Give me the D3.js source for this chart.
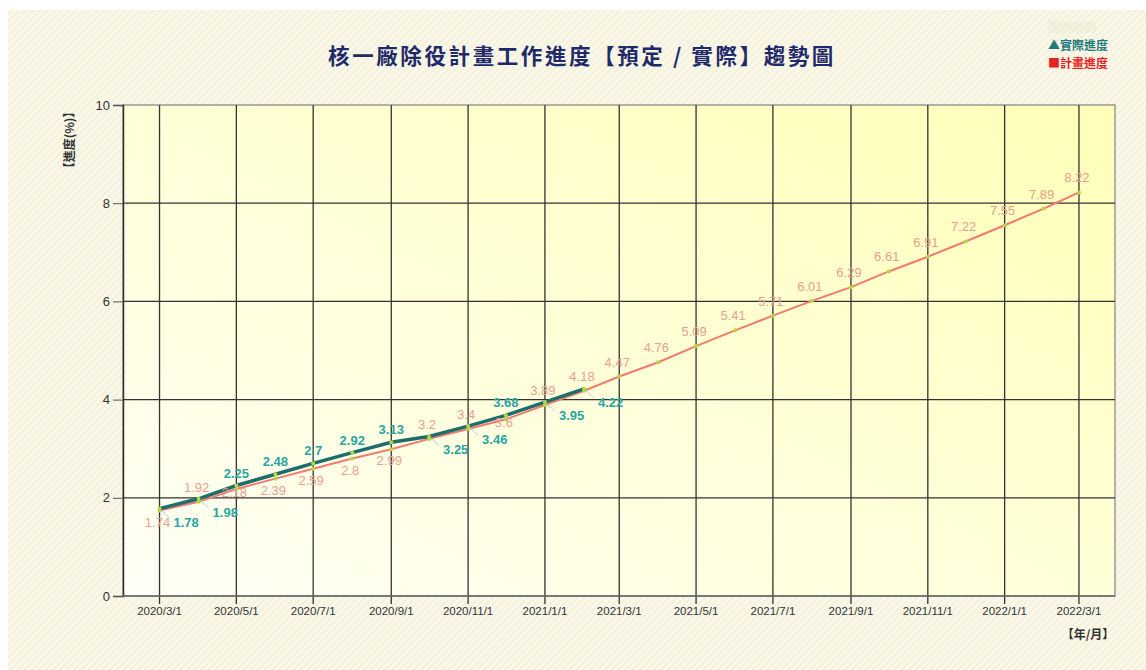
<!DOCTYPE html>
<html>
<head>
<meta charset="utf-8">
<script src="https://cdn.jsdelivr.net/npm/d3@7"></script>
<style>
  html, body { margin: 0; padding: 0; background: #fff; }
  #chart { width: 1146px; height: 670px; }
</style>
</head>
<body>
<div id="chart"></div>
<script>
// monthly progress, 2020/3 .. 2022/3
const months = ["2020-03","2020-04","2020-05","2020-06","2020-07","2020-08","2020-09","2020-10","2020-11","2020-12",
  "2021-01","2021-02","2021-03","2021-04","2021-05","2021-06","2021-07","2021-08","2021-09","2021-10","2021-11","2021-12",
  "2022-01","2022-02","2022-03"];
const planned = [1.74,1.92,2.18,2.39,2.59,2.8,2.99,3.2,3.4,3.6,3.89,4.18,4.47,4.76,5.09,5.41,5.71,6.01,6.29,6.61,6.91,7.22,7.55,7.89,8.22];
const actual = [1.78,1.98,2.25,2.48,2.7,2.92,3.13,3.25,3.46,3.68,3.95,4.22];
const xTicks = ["2020/3/1","2020/5/1","2020/7/1","2020/9/1","2020/11/1","2021/1/1","2021/3/1","2021/5/1","2021/7/1","2021/9/1","2021/11/1","2022/1/1","2022/3/1"];
const yTicks = [0,2,4,6,8,10];
// label side: a = above, b = below, c = on the point
const planSide = ["b","a","c","b","b","b","b","a","a","c","a","a","a","a","a","a","a","a","a","a","a","a","a","a","a"];
const actSide = ["b","b","a","a","a","a","a","b","b","a","b","b"];

const W = 1146, H = 670;
const m = {left: 123, right: 1115, top: 105, bottom: 596};
const parse = d3.timeParse("%Y-%m");
const parseTick = d3.timeParse("%Y/%m/%d");

const svg = d3.select("#chart").append("svg").attr("width", W).attr("height", H)
  .style("font-family", "'Noto Sans CJK TC', 'Liberation Sans', sans-serif");

const defs = svg.append("defs");
const pat = defs.append("pattern").attr("id", "stripe").attr("patternUnits", "userSpaceOnUse")
  .attr("width", 5).attr("height", 5).attr("patternTransform", "rotate(-45)");
pat.append("rect").attr("width", 5).attr("height", 5).attr("fill", "#faf8e9");
pat.append("rect").attr("width", 5).attr("height", 2).attr("fill", "#f3f0dc");
const grad = defs.append("linearGradient").attr("id", "plotbg")
  .attr("x1", "0%").attr("y1", "100%").attr("x2", "100%").attr("y2", "0%");
grad.append("stop").attr("offset", "0%").attr("stop-color", "#fffff6");
grad.append("stop").attr("offset", "100%").attr("stop-color", "#ffffb8");

svg.append("rect").attr("x", 8).attr("y", 10).attr("width", W - 8).attr("height", H - 10).attr("fill", "url(#stripe)");

const x = d3.scaleTime().domain([parse("2020-02"), parse("2022-04")]).range([m.left, m.right + 3]);
const y = d3.scaleLinear().domain([0, 10]).range([m.bottom, m.top]);

svg.append("rect").attr("x", m.left).attr("y", m.top).attr("width", m.right - m.left).attr("height", m.bottom - m.top)
  .attr("fill", "url(#plotbg)").attr("stroke", "#999").attr("stroke-width", 1.5);

// grid
svg.append("g").selectAll("line").data(yTicks.slice(1, 5)).join("line")
  .attr("x1", m.left).attr("x2", m.right).attr("y1", d => y(d)).attr("y2", d => y(d))
  .attr("stroke", "#333").attr("stroke-width", 1.3);
svg.append("g").selectAll("line").data(xTicks).join("line")
  .attr("x1", d => x(parseTick(d))).attr("x2", d => x(parseTick(d)))
  .attr("y1", m.top).attr("y2", m.bottom + 8)
  .attr("stroke", "#333").attr("stroke-width", 1.3);

// axes
const yAxis = svg.append("g").attr("transform", `translate(${m.left},0)`)
  .call(d3.axisLeft(y).tickValues(yTicks).tickSize(10).tickPadding(3));
yAxis.select(".domain").attr("stroke", "#333").attr("stroke-width", 1.5);
yAxis.selectAll(".tick line").attr("stroke", "#555");
yAxis.selectAll("text").attr("font-size", 13).attr("fill", "#333").attr("font-family", "'Liberation Sans', sans-serif");

svg.append("line").attr("x1", m.left).attr("x2", m.right).attr("y1", m.bottom).attr("y2", m.bottom)
  .attr("stroke", "#666").attr("stroke-width", 1.5);
svg.append("g").selectAll("text").data(xTicks).join("text")
  .attr("x", d => x(parseTick(d))).attr("y", 615).attr("text-anchor", "middle")
  .attr("font-size", 11.5).attr("fill", "#333").attr("font-family", "'Liberation Sans', sans-serif")
  .text(d => d);

svg.append("text").attr("x", 1088).attr("y", 639).attr("text-anchor", "middle")
  .attr("font-size", 12).attr("font-weight", "bold").attr("fill", "#333").text("【年/月】");
svg.append("text").attr("transform", "translate(74,140) rotate(-90)").attr("text-anchor", "middle")
  .attr("font-size", 12).attr("font-weight", "bold").attr("fill", "#333").text("【進度(%)】");

// title + legend
svg.append("text").attr("x", 582).attr("y", 64).attr("text-anchor", "middle")
  .attr("font-size", 21.5).attr("font-weight", "bold").attr("fill", "#1f2a6b").attr("letter-spacing", 2.6)
  .text("核一廠除役計畫工作進度【預定 / 實際】趨勢圖");
svg.append("text").attr("x", 1048).attr("y", 32).attr("font-size", 12).attr("fill", "#e8ecd0").text("圖例說明");
svg.append("text").attr("x", 1048).attr("y", 50).attr("font-size", 12).attr("font-weight", "bold").attr("fill", "#1f7b7b").text("▲實際進度");
svg.append("text").attr("x", 1048).attr("y", 68).attr("font-size", 12).attr("font-weight", "bold").attr("fill", "#e82020").text("■計畫進度");

// lines
const planData = planned.map((v, i) => ({d: parse(months[i]), v, i}));
const actData = actual.map((v, i) => ({d: parse(months[i]), v, i}));
const line = d3.line().x(p => x(p.d)).y(p => y(p.v));

svg.append("path").datum(planData).attr("d", line).attr("fill", "none")
  .attr("stroke", "#f47a6e").attr("stroke-width", 2);
svg.append("path").datum(actData).attr("d", line).attr("fill", "none")
  .attr("stroke", "#1b6e6c").attr("stroke-width", 3.5);

// markers
svg.append("g").selectAll("circle").data(planData.concat(actData)).join("circle")
  .attr("cx", p => x(p.d)).attr("cy", p => y(p.v)).attr("r", 2).attr("fill", "#b5d640");

// labels
const gp = svg.append("g");
gp.selectAll("text").data(planData).join("text")
  .attr("x", p => x(p.d) - 2)
  .attr("y", p => planSide[p.i] === "a" ? y(p.v) - 10 : planSide[p.i] === "c" ? y(p.v) + 8 : y(p.v) + 16)
  .attr("text-anchor", "middle")
  .attr("font-size", 13).attr("fill", "#e8a08c")
  .attr("font-family", "'Liberation Sans', sans-serif")
  .text(p => p.v);

const ga = svg.append("g");
ga.selectAll("line").data(actData.filter(p => actSide[p.i] === "b")).join("line")
  .attr("x1", p => x(p.d) + 2).attr("y1", p => y(p.v) + 2)
  .attr("x2", p => x(p.d) + 10).attr("y2", p => y(p.v) + 9)
  .attr("stroke", "#9fdcd8").attr("stroke-width", 1);
ga.selectAll("text").data(actData).join("text")
  .attr("x", p => actSide[p.i] === "a" ? x(p.d) : x(p.d) + 14)
  .attr("y", p => actSide[p.i] === "a" ? y(p.v) - 8 : y(p.v) + 18)
  .attr("text-anchor", p => actSide[p.i] === "a" ? "middle" : "start")
  .attr("font-size", 13).attr("font-weight", "bold").attr("fill", "#2aa5a2")
  .attr("font-family", "'Liberation Sans', sans-serif")
  .text(p => p.v);
</script>
</body>
</html>
